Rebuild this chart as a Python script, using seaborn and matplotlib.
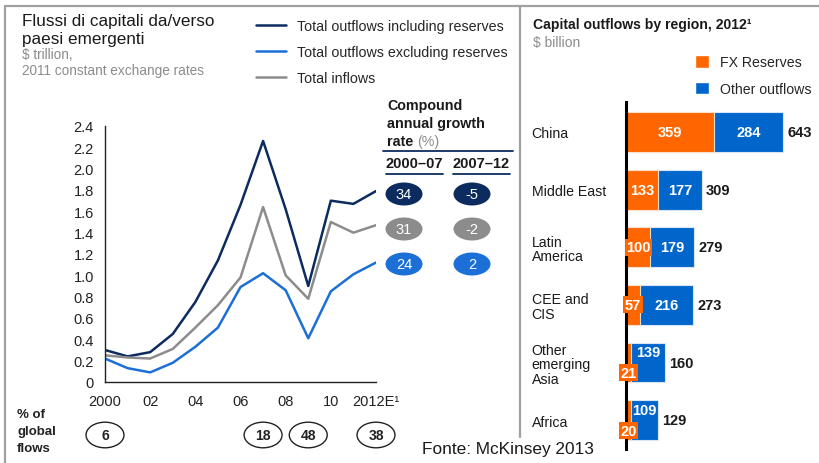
import numpy as np
import pandas as pd
import matplotlib
matplotlib.use('Agg')
import matplotlib.pyplot as plt
import seaborn as sns
from matplotlib.patches import Ellipse, Patch
from matplotlib.lines import Line2D
from matplotlib.transforms import blended_transform_factory

# --- data: left panel (line chart, $ trillion) ---
years = list(range(2000, 2013))
out_incl = [0.30, 0.24, 0.28, 0.45, 0.75, 1.14, 1.66, 2.26, 1.62, 0.90, 1.70, 1.67, 1.79]
out_excl = [0.22, 0.13, 0.09, 0.18, 0.33, 0.51, 0.89, 1.02, 0.86, 0.41, 0.85, 1.01, 1.12]
inflows = [0.25, 0.23, 0.22, 0.31, 0.51, 0.72, 0.98, 1.64, 1.00, 0.78, 1.50, 1.40, 1.47]
series_names = ['Total outflows including reserves', 'Total outflows excluding reserves', 'Total inflows']
xtick_pos = [2000, 2002, 2004, 2006, 2008, 2010, 2012]
xtick_labels = ['2000', '02', '04', '06', '08', '10', '2012E\u00b9']

# compound annual growth rate (%), rows: incl. reserves, inflows, excl. reserves
cagr_periods = ['2000\u201307', '2007\u201312']
cagr_0007 = [34, 31, 24]
cagr_0712 = [-5, -2, 2]

# % of global flows
share_years = [2000, 2007, 2009, 2012]
share_values = [6, 18, 48, 38]

# --- data: right panel (bars, $ billion) ---
regions = ['China', 'Middle East', 'Latin\nAmerica', 'CEE and\nCIS', 'Other\nemerging\nAsia', 'Africa']
fx_reserves = [359, 133, 100, 57, 21, 20]
other_outflows = [284, 177, 179, 216, 139, 109]
totals = [643, 309, 279, 273, 160, 129]

NAVY = '#0c2b5e'
BLUE = '#1b6fd6'
GREY = '#8c8c8c'
ORANGE = '#ff6600'
BARBLUE = '#0066cc'
INK = '#1a1a1a'
W, H = 819, 464

sns.set_style('white')
plt.rcParams['font.family'] = ['Liberation Sans', 'DejaVu Sans']


def fx(x):
    return x / W


def fy(y):
    return 1 - y / H


fig = plt.figure(figsize=(W / 100, H / 100), dpi=100)

# ---------------- left: lines ----------------
ax = fig.add_axes([fx(105), fy(383), 271 / W, 256 / H])
df = pd.DataFrame({'year': years * 3,
                   'value': out_incl + out_excl + inflows,
                   'series': np.repeat(series_names, len(years))})
sns.lineplot(data=df, x='year', y='value', hue='series', hue_order=series_names,
             palette=[NAVY, BLUE, GREY], linewidth=1.8, ax=ax)
handles, labels = ax.get_legend_handles_labels()
ax.get_legend().remove()
fig.legend(handles, labels, loc='upper left', bbox_to_anchor=(fx(256), fy(20)),
           frameon=False, fontsize=10.3, handlelength=2.1, handletextpad=0.75,
           labelspacing=0.83, borderpad=0, borderaxespad=0)

ax.set_xlim(2000, 2012)
ax.set_ylim(0, 2.4)
ax.set_yticks(np.arange(0, 2.41, 0.2))
ax.set_yticklabels(['0'] + [f'{v:.1f}' for v in np.arange(0.2, 2.41, 0.2)])
ax.set_xticks(xtick_pos)
ax.set_xticklabels(xtick_labels)
ax.set_xticks(years, minor=True)
ax.set_xlabel('')
ax.set_ylabel('')
for s in ['top', 'right']:
    ax.spines[s].set_visible(False)
for s in ['left', 'bottom']:
    ax.spines[s].set_color('#222222')
    ax.spines[s].set_linewidth(1.0)
ax.tick_params(axis='both', which='both', direction='in', length=5, width=1,
               color='#222222', labelsize=10.5, labelcolor='#222222')
ax.tick_params(axis='x', pad=8.5)
ax.tick_params(axis='y', pad=8)

# % of global flows ovals
tr = blended_transform_factory(ax.transData, ax.transAxes)
for yr, v in zip(share_years, share_values):
    ax.add_patch(Ellipse((yr, -0.207), 1.68, 0.10, transform=tr, clip_on=False,
                         facecolor='white', edgecolor='#222222', lw=1))
    ax.text(yr, -0.207, str(v), transform=tr, ha='center', va='center',
            fontsize=10, fontweight='bold', color='#222222')
for txt, yy in zip(['% of', 'global', 'flows'], [415, 432, 449]):
    fig.text(fx(17), fy(yy), txt, ha='left', va='center', fontsize=9.5,
             fontweight='bold', color='#222222')

# titles
for txt, yy in zip(['Flussi di capitali da/verso', 'paesi emergenti'], [26, 44]):
    fig.text(fx(22), fy(yy), txt, ha='left', va='baseline', fontsize=12.3, color=INK)
for txt, yy in zip(['$ trillion,', '2011 constant exchange rates'], [59, 75]):
    fig.text(fx(22), fy(yy), txt, ha='left', va='baseline', fontsize=9.8, color=GREY)

# CAGR table
for txt, yy in zip(['Compound', 'annual growth', 'rate'], [106, 124, 142]):
    fig.text(fx(387), fy(yy), txt, ha='left', va='center', fontsize=10.3,
             fontweight='bold', color=INK)
fig.text(fx(417), fy(142), '(%)', ha='left', va='center', fontsize=10.3, color=GREY)
fig.add_artist(Line2D([fx(383), fx(513)], [fy(152), fy(152)], color=NAVY, lw=1.3))
for cx, (x0, x1), lab in zip([414.5, 481.5], [(386, 443), (453, 510)], cagr_periods):
    fig.text(fx(cx), fy(164), lab, ha='center', va='center', fontsize=10.5,
             fontweight='bold', color=INK)
    fig.add_artist(Line2D([fx(x0), fx(x1)], [fy(175), fy(175)], color=NAVY, lw=1.3))
for i, (a, b, c) in enumerate(zip(cagr_0007, cagr_0712, [NAVY, GREY, BLUE])):
    cy = 195 + 35 * i
    for cx, v in zip([404, 472], [a, b]):
        fig.add_artist(Ellipse((fx(cx), fy(cy)), 37 / W, 23 / H, facecolor=c, edgecolor='none'))
        fig.text(fx(cx), fy(cy), str(v), ha='center', va='center', fontsize=10.5,
                 color='white')

# ---------------- right: bars ----------------
axr = fig.add_axes([fx(626), fy(450), 190 / W, 347 / H])
stack_end = [a + b for a, b in zip(fx_reserves, other_outflows)]
sns.barplot(x=stack_end, y=regions, color=BARBLUE, saturation=1, width=0.69,
            edgecolor='#d9e6f5', linewidth=0.8, orient='h', ax=axr)
sns.barplot(x=fx_reserves, y=regions, color=ORANGE, saturation=1, width=0.69,
            edgecolor='#fbe0cc', linewidth=0.8, orient='h', ax=axr)
axr.set_xlim(0, 778)
axr.set_ylim(5.5, -0.52)
axr.set_xticks([])
axr.set_xlabel('')
axr.set_ylabel('')
for s in ['top', 'right', 'bottom']:
    axr.spines[s].set_visible(False)
axr.spines['left'].set_color('black')
axr.spines['left'].set_linewidth(2.2)
axr.spines['left'].set_zorder(5)
axr.tick_params(axis='y', length=0, pad=68, labelsize=10.2, labelcolor=INK)
for t in axr.get_yticklabels():
    t.set_ha('left')
    t.set_linespacing(1.05)

for i, (f, o, tot, end) in enumerate(zip(fx_reserves, other_outflows, totals, stack_end)):
    small = f < 40
    fy_off = 0.18 if small else 0
    oy_off = -0.18 if small else 0
    fx_pos = max(f / 2, 10)
    axr.text(fx_pos, i + fy_off, str(f), ha='center', va='center', fontsize=10.5,
             fontweight='bold', color='white', zorder=6,
             bbox=dict(boxstyle='square,pad=0.1', facecolor=ORANGE, edgecolor='none'))
    axr.text(f + o / 2, i + oy_off, str(o), ha='center', va='center', fontsize=10.5,
             fontweight='bold', color='white', zorder=6)
    axr.text(end + 18, i, str(tot), ha='left', va='center', fontsize=10.5,
             fontweight='bold', color=INK)

fig.legend([Patch(facecolor=ORANGE), Patch(facecolor=BARBLUE)],
           ['FX Reserves', 'Other outflows'], loc='upper left',
           bbox_to_anchor=(fx(695), fy(56)), frameon=False, fontsize=10.2,
           handlelength=1.0, handleheight=1.0, handletextpad=0.77,
           labelspacing=0.88, borderpad=0, borderaxespad=0)
fig.text(fx(533), fy(25), 'Capital outflows by region, 2012\u00b9', ha='left', va='center',
         fontsize=10.1, fontweight='bold', color=INK)
fig.text(fx(533), fy(43), '$ billion', ha='left', va='center', fontsize=10, color=GREY)

fig.text(fx(422), fy(450), 'Fonte: McKinsey 2013', ha='left', va='center',
         fontsize=12.4, color=INK)

# panel frame
frame = '#a0a0a0'
fig.add_artist(Line2D([fx(5), fx(5)], [fy(7), 0], color=frame, lw=1.6))
fig.add_artist(Line2D([fx(5), 1], [fy(7), fy(7)], color=frame, lw=1.6))
fig.add_artist(Line2D([fx(520), fx(520)], [fy(7), fy(438)], color=frame, lw=1.6))

fig.savefig('out.png', dpi=100)
